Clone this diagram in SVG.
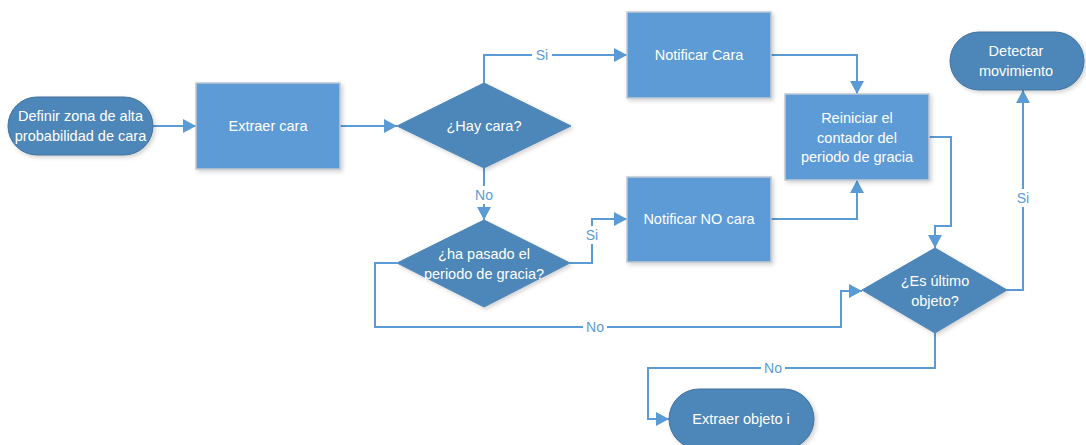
<svg xmlns="http://www.w3.org/2000/svg" width="1086" height="445" viewBox="0 0 1086 445">
<style>
.term{fill:#4E86B9;stroke:#41719C;stroke-width:1}
.dec{fill:#4E86B9;stroke:#4E86B9;stroke-width:1}
.proc{fill:#5B9BD5;stroke:#BFC8D2;stroke-width:1.5}
.t{font-family:"Liberation Sans",Arial,sans-serif;font-size:14.5px;fill:#FFFFFF;text-anchor:middle;dominant-baseline:central}
.c{fill:none;stroke:#5B9BD5;stroke-width:2}
.lbl{font-family:"Liberation Sans",Arial,sans-serif;font-size:14px;fill:#5B9BD5;text-anchor:middle;dominant-baseline:central}
.bg{fill:#FFFFFF}
</style>
<defs>
<marker id="ah" markerWidth="13" markerHeight="14" refX="13" refY="7" orient="auto" markerUnits="userSpaceOnUse">
<path d="M0,0 L13,7 L0,14 Z" fill="#5B9BD5"/>
</marker>
<filter id="sh" x="-10%" y="-10%" width="130%" height="130%">
<feDropShadow dx="2" dy="2" stdDeviation="2" flood-color="#000" flood-opacity="0.18"/>
</filter>
</defs>
<g id="connectors">
<path class="c" d="M153,126 H196" marker-end="url(#ah)"/>
<path class="c" d="M340,126 H397" marker-end="url(#ah)"/>
<path class="c" d="M484,83 V55 H627" marker-end="url(#ah)"/>
<path class="c" d="M484,168 V220" marker-end="url(#ah)"/>
<path class="c" d="M570,263 H592 V219 H627" marker-end="url(#ah)"/>
<path class="c" d="M397,263 H375 V327 H841 V291 H862" marker-end="url(#ah)"/>
<path class="c" d="M771,55 H857 V94" marker-end="url(#ah)"/>
<path class="c" d="M771,219 H857 V180" marker-end="url(#ah)"/>
<path class="c" d="M929,137 H951 V226 H935 V248" marker-end="url(#ah)"/>
<path class="c" d="M1007,290 H1023 V90" marker-end="url(#ah)"/>
<path class="c" d="M935,333 V368 H648 V419 H669" marker-end="url(#ah)"/>
<rect class="bg" x="532" y="46" width="20" height="18"/>
<text class="lbl" x="542" y="55">Si</text>
<rect class="bg" x="472" y="186" width="24" height="18"/>
<text class="lbl" x="484" y="195">No</text>
<rect class="bg" x="582" y="226" width="20" height="18"/>
<text class="lbl" x="592" y="235">Si</text>
<rect class="bg" x="583" y="318" width="24" height="18"/>
<text class="lbl" x="595" y="327">No</text>
<rect class="bg" x="1013" y="189" width="20" height="18"/>
<text class="lbl" x="1023" y="198">Si</text>
<rect class="bg" x="761" y="359" width="24" height="18"/>
<text class="lbl" x="773" y="368">No</text>
</g>
<g id="n-definir">
<rect class="term" x="8" y="97" width="145" height="58" rx="29" ry="29" filter="url(#sh)"/>
<text class="t" x="80.5" y="116">Definir zona de alta</text>
<text class="t" x="80.5" y="136">probabilidad de cara</text>
</g>
<g id="n-extraer-cara">
<rect class="proc" x="196" y="83" width="144" height="86" filter="url(#sh)"/>
<text class="t" x="268" y="126">Extraer cara</text>
</g>
<g id="n-hay-cara">
<polygon class="dec" points="484,83 571,126 484,168 397,126" filter="url(#sh)"/>
<text class="t" x="484" y="126">¿Hay cara?</text>
</g>
<g id="n-notificar-cara">
<rect class="proc" x="627" y="12" width="144" height="86" filter="url(#sh)"/>
<text class="t" x="699" y="55">Notificar Cara</text>
</g>
<g id="n-notificar-no-cara">
<rect class="proc" x="627" y="177" width="144" height="85" filter="url(#sh)"/>
<text class="t" x="699" y="219">Notificar NO cara</text>
</g>
<g id="n-periodo">
<polygon class="dec" points="484,220 570,263 484,307 397,263" filter="url(#sh)"/>
<text class="t" x="484" y="254">¿ha pasado el</text>
<text class="t" x="484" y="274">periodo de gracia?</text>
</g>
<g id="n-reiniciar">
<rect class="proc" x="785" y="94" width="144" height="86" filter="url(#sh)"/>
<text class="t" x="857" y="118">Reiniciar el</text>
<text class="t" x="857" y="138">contador del</text>
<text class="t" x="857" y="157">periodo de gracia</text>
</g>
<g id="n-ultimo">
<polygon class="dec" points="935,248 1007,290 935,333 862,290" filter="url(#sh)"/>
<text class="t" x="935" y="281">¿Es último</text>
<text class="t" x="935" y="301">objeto?</text>
</g>
<g id="n-detectar">
<rect class="term" x="950" y="32" width="134" height="58" rx="29" ry="29" filter="url(#sh)"/>
<text class="t" x="1016" y="51">Detectar</text>
<text class="t" x="1016" y="71">movimiento</text>
</g>
<g id="n-extraer-objeto">
<rect class="term" x="669" y="389" width="145" height="60" rx="30" ry="30" filter="url(#sh)"/>
<text class="t" x="741" y="419">Extraer objeto i</text>
</g>
</svg>
